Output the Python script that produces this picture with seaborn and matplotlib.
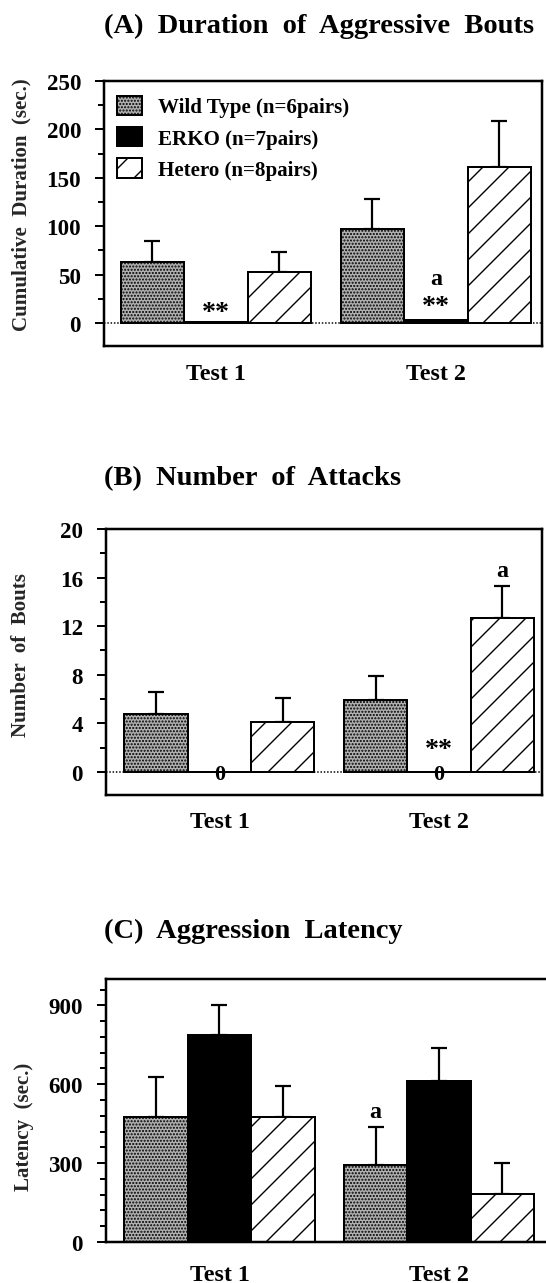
import matplotlib
matplotlib.use("Agg")
import matplotlib.pyplot as plt
import matplotlib.patches as mpatches
from matplotlib.ticker import MultipleLocator
import pandas as pd
import seaborn as sns

tests = ["Test 1", "Test 2"]
groups = ["Wild Type (n=6pairs)", "ERKO (n=7pairs)", "Hetero (n=8pairs)"]

# rows: wild type, ERKO, hetero / columns: test 1, test 2
duration_mean = [[63, 97.5], [1, 3], [52.5, 161]]
duration_sem = [[22, 31], [0, 0], [21, 47.5]]
attacks_mean = [[4.8, 5.9], [0, 0], [4.1, 12.7]]
attacks_sem = [[1.8, 2.0], [0, 0], [2.0, 2.6]]
latency_mean = [[475, 292], [786, 611], [475, 182]]
latency_sem = [[152, 145], [114, 126], [118, 118]]

W, H, DPI = 546, 1284, 78


def pt(px):
    # pixel size -> points at the chosen dpi
    return px * 72 / DPI


FACE = ["#b0b0b0", "black", "white"]
HATCH = ["....", None, "/"]

sns.set_theme(style="ticks")
plt.rcParams["font.family"] = ["Liberation Serif", "DejaVu Serif"]
plt.rcParams["font.weight"] = "bold"
plt.rcParams["axes.labelweight"] = "bold"
plt.rcParams["hatch.linewidth"] = pt(1.4)
plt.rcParams["axes.edgecolor"] = "black"
plt.rcParams["text.color"] = "black"
plt.rcParams["xtick.color"] = "black"
plt.rcParams["ytick.color"] = "black"

fig = plt.figure(figsize=(W / DPI, H / DPI), dpi=DPI, facecolor="white")


def add_axes(left, top, right, bottom):
    return fig.add_axes([left / W, 1 - bottom / H, (right - left) / W, (bottom - top) / H])


def draw_panel(ax, means, sems, ylim, xlim, major, minor, ylabel, label_xy, xpad, zero_line=True):
    df = pd.DataFrame({
        "test": tests * len(groups),
        "group": [g for g in groups for _ in tests],
        "value": [v for row in means for v in row],
    })
    sns.barplot(data=df, x="test", y="value", hue="group", order=tests,
                hue_order=groups, width=0.866, errorbar=None, legend=False,
                saturation=1, ax=ax)
    bars = list(ax.containers)
    for i, cont in enumerate(bars):
        for j, bar in enumerate(cont):
            bar.set_facecolor(FACE[i])
            bar.set_edgecolor("black")
            bar.set_linewidth(pt(2))
            bar.set_hatch(HATCH[i])
            bar.set_zorder(2)
            if sems[i][j] > 0:
                ax.errorbar(bar.get_x() + bar.get_width() / 2, bar.get_height(),
                            yerr=[[0], [sems[i][j]]], fmt="none", ecolor="black",
                            elinewidth=pt(2.2), capsize=pt(8), capthick=pt(2.2), zorder=1.5)
    if zero_line:
        ax.axhline(0, ls=(0, (1, 1.2)), color="black", lw=pt(1.5), zorder=0.5)
    ax.set_ylim(*ylim)
    ax.set_xlim(*xlim)
    ax.yaxis.set_major_locator(MultipleLocator(major))
    ax.yaxis.set_minor_locator(MultipleLocator(minor))
    ax.tick_params(axis="y", which="major", direction="out", length=pt(9), width=pt(2),
                   pad=pt(14), labelsize=pt(23))
    ax.tick_params(axis="y", which="minor", direction="out", length=pt(6), width=pt(2))
    ax.tick_params(axis="x", length=0, pad=pt(xpad), labelsize=pt(24))
    for s in ax.spines.values():
        s.set_linewidth(pt(2.5))
        s.set_color("black")
    ax.set_xlabel("")
    ax.set_ylabel(ylabel, fontsize=pt(21), va="center")
    ax.yaxis.set_label_coords(*label_xy)
    ax.set_facecolor("white")
    return bars


def center(bars, i, j):
    bar = bars[i][j]
    return bar.get_x() + bar.get_width() / 2


# (A) duration
axA = add_axes(104, 82, 542, 347)
barsA = draw_panel(axA, duration_mean, duration_sem, (-23.7, 250), (-0.509, 1.482), 50, 25,
                   "Cumulative  Duration  (sec.)", ((21.6 - 104) / 438, 0.536), 17)
axA.text(center(barsA, 1, 0), 4, "**", ha="center", va="baseline", fontsize=pt(28))
axA.text(center(barsA, 1, 1), 10.5, "**", ha="center", va="baseline", fontsize=pt(28))
axA.text(center(barsA, 1, 1), 40, "a", ha="center", va="baseline", fontsize=pt(24))
handles = [mpatches.Patch(facecolor=FACE[i], edgecolor="black", hatch=HATCH[i],
                          linewidth=pt(2), label=groups[i]) for i in range(3)]
axA.legend(handles=handles, loc="upper left", bbox_to_anchor=(0.03, 0.945),
           frameon=False, borderpad=0, borderaxespad=0, fontsize=pt(21),
           handlelength=1.2, handleheight=1.05, labelspacing=0.45, handletextpad=0.75)

# (B) number of attacks
axB = add_axes(106, 530, 542, 796)
barsB = draw_panel(axB, attacks_mean, attacks_sem, (-1.9, 20), (-0.517, 1.47), 4, 2,
                   "Number  of  Bouts", ((21 - 106) / 436, 0.53), 16)
for j in range(2):
    axB.text(center(barsB, 1, j), -0.6, "0", ha="center", va="baseline", fontsize=pt(22))
axB.text(center(barsB, 1, 1), 1.3, "**", ha="center", va="baseline", fontsize=pt(28))
axB.text(center(barsB, 2, 1), 16.1, "a", ha="center", va="baseline", fontsize=pt(24))

# (C) latency
axC = add_axes(106, 980, 552, 1243)
barsC = draw_panel(axC, latency_mean, latency_sem, (0, 1000), (-0.517, 1.515), 300, 60,
                   "Latency  (sec.)", ((24 - 106) / 446, 0.44), 22, zero_line=False)
axC.text(center(barsC, 0, 1), 475, "a", ha="center", va="baseline", fontsize=pt(24))

for y, title in [(33, "(A)  Duration  of  Aggressive  Bouts"),
                 (485, "(B)  Number  of  Attacks"),
                 (938, "(C)  Aggression  Latency")]:
    fig.text(104 / W, 1 - y / H, title, ha="left", va="baseline", fontsize=pt(28.5))

fig.savefig("out.png", dpi=DPI, facecolor="white")
